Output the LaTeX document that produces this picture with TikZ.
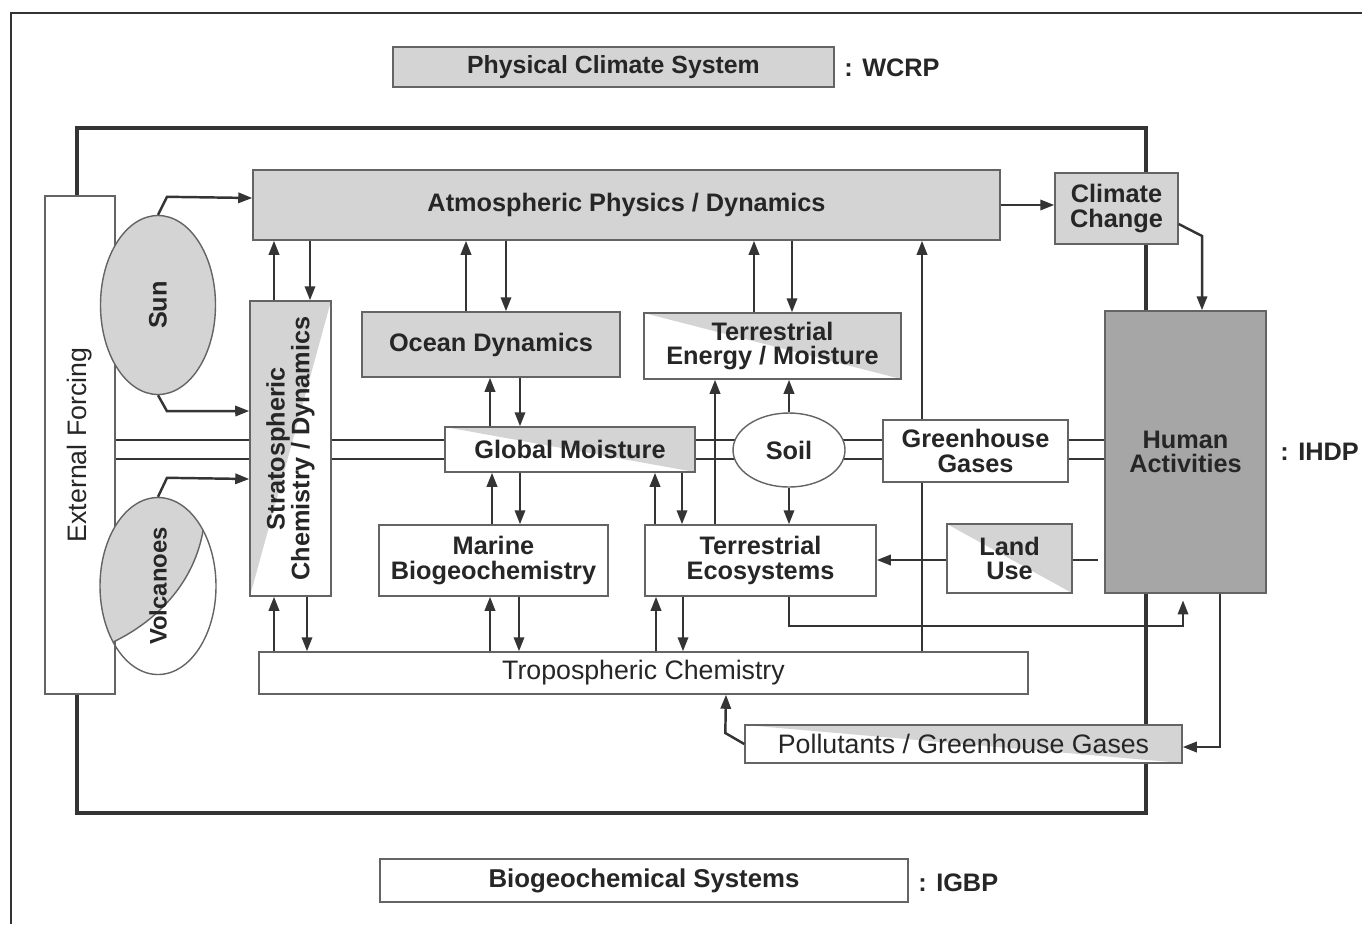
\documentclass[tikz,border=0pt]{standalone}
\usepackage{fontspec}
\setmainfont{Liberation Sans}
\usetikzlibrary{calc, positioning, arrows.meta, shapes.geometric, backgrounds}
\definecolor{boxgray}{RGB}{212, 212, 212}
\definecolor{humgray}{RGB}{166, 166, 166}
\definecolor{linegray}{RGB}{52, 52, 52}
\definecolor{edgegray}{RGB}{100, 100, 100}

\begin{document}
\begin{tikzpicture}[x=0.015cm, y=-0.015cm, >={Triangle[length=6pt, width=4.4pt]},
  font=\fontsize{10.8}{10.5}\selectfont\bfseries, text=black!85,
  corners/.style n args={4}{at={(#1/2+#3/2, #2/2+#4/2)},
      minimum width={(#3-#1)*0.015cm}, minimum height={(#4-#2)*0.015cm}},
  box/.style={draw=edgegray, line width=0.6pt, fill=white, inner sep=0pt, align=center},
  graybox/.style={box, fill=boxgray},
  halfright/.style={box, path picture={\fill[boxgray] (path picture bounding box.north west)
      -- (path picture bounding box.north east) -- (path picture bounding box.south east) -- cycle;}},
  halfleft/.style={box, path picture={\fill[boxgray] (path picture bounding box.north west)
      -- (path picture bounding box.north east) -- (path picture bounding box.south west) -- cycle;}},
  oval/.style={ellipse, draw=edgegray, line width=0.6pt, inner sep=0pt},
  plain/.style={font=\fontsize{11.4}{12}\selectfont},
  tag/.style={anchor=west, inner sep=0pt},
  link/.style={line width=1.05pt, linegray},
  arr/.style={link, ->}]
  \useasboundingbox (0,0) rectangle (1362,924);
  % page border and programme frame
  \draw[line width=0.8pt, black!80] (11,924) -- (11,13) -- (1362,13);
  \draw[line width=1.4pt, linegray] (77,128) rectangle (1146,813);

  % Legend
  \node[graybox, corners={393}{47}{834}{87}, font=\fontsize{10.6}{12}\selectfont\bfseries] (pcs) {Physical Climate System};
  \node[tag] (wcrp) at (844,68) {: WCRP};
  \node[box, corners={380}{859}{908}{902}, font=\fontsize{11}{12}\selectfont\bfseries] (bgs) {Biogeochemical Systems};
  \node[tag] (igbp) at (918,883) {: IGBP};
  \node[tag] (ihdp) at (1280,452) {: IHDP};

  % External forcing
  \node[box, corners={45}{196}{115}{694}] (ext) {};
  \node[rotate=90, plain] (extlbl) at (ext.center) {External Forcing};
  \node[oval, fill=boxgray, minimum width=1.725cm, minimum height=2.685cm] (sun) at (158,305) {};
  \node[rotate=90] (sunlbl) at (sun.center) {Sun};
  \begin{scope}
    \clip (158,586) ellipse [x radius=0.87cm, y radius=1.3275cm];
    \fill[boxgray] (111,643) .. controls (150,625) and (200,585) .. (205,515) -- (230,480) -- (80,480) -- (80,680) -- cycle;
    \draw[edgegray, line width=0.6pt] (111,643) .. controls (150,625) and (200,585) .. (205,515);
  \end{scope}
  \node[oval, minimum width=1.74cm, minimum height=2.655cm] (volc) at (158,586) {};
  \node[rotate=90, font=\fontsize{10.2}{10}\selectfont\bfseries] (volclbl) at (volc.center) {Volcanoes};

  % Physical climate system
  \node[graybox, corners={253}{170}{1000}{240}] (atm) {Atmospheric Physics / Dynamics};
  \node[graybox, corners={1055}{173}{1178}{244}] (cc) {Climate\\Change};
  \node[halfleft, corners={250}{301}{331}{596}] (strat) {};
  \node[rotate=90, align=center] (stratlbl) at (strat.center) {Stratospheric\\Chemistry / Dynamics};
  \node[graybox, corners={362}{312}{620}{377}] (ocean) {Ocean Dynamics};
  \node[halfright, corners={644}{313}{901}{379}] (tem) {Terrestrial\\Energy / Moisture};
  \node[halfright, corners={445}{427}{695}{472}] (gm) {Global Moisture};
  \node[oval, fill=white, minimum width=1.68cm, minimum height=1.11cm] (soil) at (789,450) {Soil};
  \node[box, corners={883}{420}{1068}{482}] (ghg) {Greenhouse\\Gases};
  \node[box, fill=humgray, corners={1105}{311}{1266}{593}] (ha) {Human\\Activities};

  % Biogeochemical systems
  \node[box, corners={379}{525}{608}{596}] (marine) {Marine\\Biogeochemistry};
  \node[box, corners={645}{525}{876}{596}] (te) {Terrestrial\\Ecosystems};
  \node[halfright, corners={947}{524}{1072}{593}] (landuse) {Land\\Use};
  \node[box, corners={259}{652}{1028}{694}, plain] (trop) {Tropospheric Chemistry};
  \node[halfright, corners={745}{725}{1182}{763}, plain] (pollut) {Pollutants / Greenhouse Gases};

  % Links behind the boxes
  \begin{scope}[on background layer]
    \foreach \yy in {440, 459} {
      \draw[link] (ext.east |- 0,\yy) -- (strat.west |- 0,\yy);
      \draw[link] (strat.east |- 0,\yy) -- (gm.west |- 0,\yy);
      \draw[link] (gm.east |- 0,\yy) -- (ghg.west |- 0,\yy);
      \draw[link] (ghg.east |- 0,\yy) -- (ha.west |- 0,\yy);
    }
    \draw[arr] (922,0 |- trop.north) -- (922,0 |- atm.south);
  \end{scope}

  % Forcing arrows
  \draw[arr] (sun.north) -- ++(9,-18) -- (atm.west |- 0,198);
  \draw[arr] (sun.south) -- ++(9,16) -- (strat.west |- 0,411);
  \draw[arr] (volc.north) -- ++(9,-19) -- (strat.west |- 0,479);

  % Exchanges with the atmosphere
  \draw[arr] (274,0 |- strat.north) -- (274,0 |- atm.south);
  \draw[arr] (310,0 |- atm.south) -- (310,0 |- strat.north);
  \draw[arr] (466,0 |- ocean.north) -- (466,0 |- atm.south);
  \draw[arr] (506,0 |- atm.south) -- (506,0 |- ocean.north);
  \draw[arr] (754,0 |- tem.north) -- (754,0 |- atm.south);
  \draw[arr] (792,0 |- atm.south) -- (792,0 |- tem.north);
  \draw[arr] (atm.east |- 0,205) -- (cc.west |- 0,205);
  \draw[arr] (cc.east |- 0,224) -- (1202,236) -- (1202,0 |- ha.north);

  % Middle layer
  \draw[arr] (490,0 |- gm.north) -- (490,0 |- ocean.south);
  \draw[arr] (520,0 |- ocean.south) -- (520,0 |- gm.north);
  \draw[arr] (492,0 |- marine.north) -- (492,0 |- gm.south);
  \draw[arr] (520,0 |- gm.south) -- (520,0 |- marine.north);
  \draw[arr] (655,0 |- te.north) -- (655,0 |- gm.south);
  \draw[arr] (682,0 |- gm.south) -- (682,0 |- te.north);
  \draw[arr] (715,0 |- te.north) -- (715,0 |- tem.south);
  \draw[arr] (soil.north) -- (tem.south -| soil.north);
  \draw[arr] (soil.south) -- (te.north -| soil.south);

  % Troposphere
  \draw[arr] (274,0 |- trop.north) -- (274,0 |- strat.south);
  \draw[arr] (307,0 |- strat.south) -- (307,0 |- trop.north);
  \draw[arr] (490,0 |- trop.north) -- (490,0 |- marine.south);
  \draw[arr] (519,0 |- marine.south) -- (519,0 |- trop.north);
  \draw[arr] (656,0 |- trop.north) -- (656,0 |- te.south);
  \draw[arr] (683,0 |- te.south) -- (683,0 |- trop.north);

  % Human activities
  \draw[link, shorten <=1mm] (ha.west |- 0,560) -- (landuse.east |- 0,560);
  \draw[arr] (landuse.west |- 0,560) -- (te.east |- 0,560);
  \draw[arr, shorten >=1mm] (789,0 |- te.south) -- (789,626) -- (1183,626) -- (1183,0 |- ha.south);
  \draw[arr] (1220,0 |- ha.south) -- (1220,747) -- (pollut.east |- 0,747);
  \draw[arr] (pollut.west) -- ++(-19,-11) -- (726,0 |- trop.south);
\end{tikzpicture}
\end{document}
